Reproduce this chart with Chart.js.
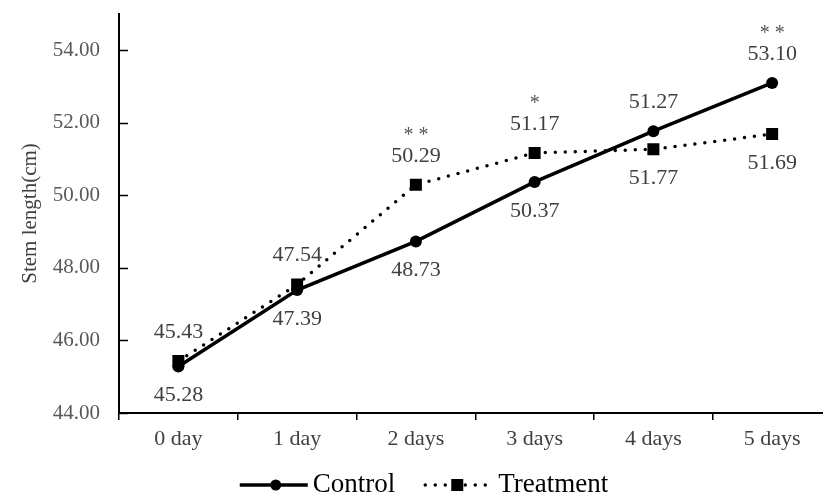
<!DOCTYPE html>
<html>
<head>
<meta charset="utf-8">
<script src="https://cdn.jsdelivr.net/npm/chart.js@4.4.0/dist/chart.umd.min.js"></script>
<style>
  html, body { margin: 0; padding: 0; overflow: hidden; background: #fff; }
</style>
</head>
<body>
<canvas id="myChart" width="840" height="497"></canvas>
<script>
const days = ['0 day', '1 day', '2 days', '3 days', '4 days', '5 days'];
const seriesNames = ['Control', 'Treatment'];
const control = [45.28, 47.39, 48.73, 50.37, 51.77, 53.10];
const treatment = [45.43, 47.54, 50.29, 51.17, 51.27, 51.69];
// value labels as printed on the figure (the two 4 days labels are swapped there)
const controlText = ['45.28', '47.39', '48.73', '50.37', '51.27', '53.10'];
const treatmentText = ['45.43', '47.54', '50.29', '51.17', '51.77', '51.69'];
const stars = ['', '', '* *', '*', '', '* *'];
const yTicks = [44, 46, 48, 50, 52, 54];

const serif = 'Liberation Serif';

// value labels: the upper point gets its label above, the lower one below
const valueLabels = {
    id: 'valueLabels',
    afterDatasetsDraw(chart) {
        const ctx = chart.ctx;
        const c = chart.getDatasetMeta(0).data;
        const t = chart.getDatasetMeta(1).data;
        ctx.save();
        ctx.textAlign = 'center';
        ctx.textBaseline = 'middle';
        days.forEach((d, i) => {
            const cUp = c[i].y < t[i].y;
            const up = cUp ? c[i] : t[i];
            const down = cUp ? t[i] : c[i];
            ctx.font = '22px "' + serif + '"';
            ctx.fillStyle = '#404040';
            ctx.fillText(cUp ? controlText[i] : treatmentText[i], up.x, up.y - 29);
            ctx.fillText(cUp ? treatmentText[i] : controlText[i], down.x, down.y + 29);
            if (stars[i]) {
                ctx.fillStyle = '#555';
                ctx.font = '20px "' + serif + '"';
                ctx.fillText(stars[i], up.x, up.y - 49);
            }
        });
        ctx.restore();
    }
};

// y tick marks point into the plot
const innerTicks = {
    id: 'innerTicks',
    afterDraw(chart) {
        const ctx = chart.ctx;
        const y = chart.scales.y;
        const left = chart.chartArea.left;
        ctx.save();
        ctx.strokeStyle = '#000';
        ctx.lineWidth = 1.5;
        yTicks.forEach(v => {
            const py = Math.round(y.getPixelForValue(v)) + 0.5;
            ctx.beginPath();
            ctx.moveTo(left, py);
            ctx.lineTo(left + 9, py);
            ctx.stroke();
        });
        ctx.restore();
    }
};

// legend with line + marker samples
const lineLegend = {
    id: 'lineLegend',
    afterDraw(chart) {
        const ctx = chart.ctx;
        const y = 485;
        ctx.save();
        ctx.font = '27px "' + serif + '"';
        const w1 = ctx.measureText(seriesNames[0]).width;
        const w2 = ctx.measureText(seriesNames[1]).width;
        const total = 68 + 5 + w1 + 28 + 63 + 12 + w2;
        let x = 424 - total / 2;

        ctx.strokeStyle = '#000';
        ctx.fillStyle = '#000';
        ctx.lineWidth = 3.5;
        ctx.beginPath();
        ctx.moveTo(x, y);
        ctx.lineTo(x + 68, y);
        ctx.stroke();
        ctx.beginPath();
        ctx.arc(x + 36, y, 5.5, 0, Math.PI * 2);
        ctx.fill();
        x += 73;
        ctx.textBaseline = 'middle';
        ctx.fillText(seriesNames[0], x, y);
        x += w1 + 28;

        ctx.setLineDash([0, 10]);
        ctx.lineCap = 'round';
        ctx.beginPath();
        ctx.moveTo(x + 2, y);
        ctx.lineTo(x + 63, y);
        ctx.stroke();
        ctx.setLineDash([]);
        ctx.fillRect(x + 28, y - 6, 12, 12);
        x += 75;
        ctx.fillText(seriesNames[1], x, y);
        ctx.restore();
    }
};

new Chart(document.getElementById('myChart'), {
    type: 'line',
    data: {
        labels: days,
        datasets: [{
            label: seriesNames[0],
            data: control,
            borderColor: '#000',
            backgroundColor: '#000',
            borderWidth: 3.5,
            pointStyle: 'circle',
            pointRadius: 6,
            pointBorderWidth: 0,
            tension: 0
        }, {
            label: seriesNames[1],
            data: treatment,
            borderColor: '#000',
            backgroundColor: '#000',
            borderWidth: 3.5,
            borderDash: [0, 10],
            borderCapStyle: 'round',
            pointStyle: 'rect',
            pointRadius: 8.5,
            pointBorderWidth: 0,
            tension: 0
        }]
    },
    options: {
        responsive: false,
        animation: false,
        layout: { padding: { top: 14, right: 4, left: 0, bottom: 0 } },
        plugins: {
            legend: { display: false },
            tooltip: { enabled: false }
        },
        scales: {
            x: {
                offset: true,
                grid: {
                    offset: true,
                    drawOnChartArea: false,
                    drawTicks: true,
                    tickLength: 7,
                    color: '#000',
                    lineWidth: 1.5
                },
                border: { color: '#000', width: 2 },
                ticks: {
                    color: '#404040',
                    font: { family: serif, size: 22 },
                    padding: 6
                },
                afterFit(s) { s.height = 84; s.paddingLeft = 0; s.paddingRight = 0; }
            },
            y: {
                min: 44,
                max: 55,
                afterBuildTicks(s) { s.ticks = yTicks.map(v => ({ value: v })); },
                grid: { display: false },
                border: { color: '#000', width: 2 },
                ticks: {
                    color: '#595959',
                    font: { family: serif, size: 21 },
                    padding: 11,
                    callback: v => Number(v).toFixed(2)
                },
                title: {
                    display: true,
                    text: 'Stem length(cm)',
                    color: '#404040',
                    font: { family: serif, size: 21 },
                    padding: { top: 18, bottom: 0 }
                },
                afterFit(s) { s.width = 119; s.paddingTop = 0; s.paddingBottom = 0; }
            }
        }
    },
    plugins: [valueLabels, innerTicks, lineLegend]
});
</script>
</body>
</html>
